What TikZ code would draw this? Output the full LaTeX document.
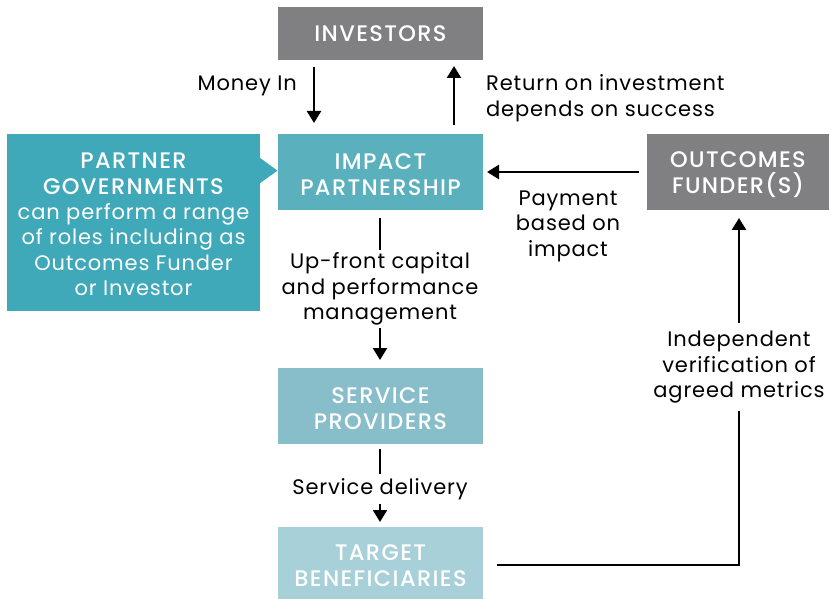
\documentclass[tikz,border=0pt]{standalone}
\usepackage{fontspec}
\setmainfont{Poppins}[LetterSpace=4]
\newfontfamily\headfont{Poppins}[UprightFont=*-Medium, LetterSpace=6]
\usetikzlibrary{arrows.meta}
\definecolor{invgray}{HTML}{808083}
\definecolor{impactteal}{HTML}{5AB0BD}
\definecolor{govteal}{HTML}{3FA9B9}
\definecolor{provteal}{HTML}{88BDCA}
\definecolor{benefteal}{HTML}{A8D0D9}
\tikzset{
  box/.style={minimum width=205pt, minimum height=76pt, inner sep=0pt},
  boxtext/.style={inner sep=0pt, text=white, align=center,
    font=\headfont\fontsize{22.5}{25.5}\selectfont},
  bodytext/.style={inner sep=0pt, text=white, align=center,
    font=\fontsize{21}{25.5}\selectfont},
  lbl/.style={align=center, inner sep=1pt, font=\fontsize{21}{25.5}\selectfont},
  flow/.style={line width=2.4pt, -{Triangle[width=14pt,length=12pt]}},
}
\begin{document}
\begin{tikzpicture}[x=1pt,y=-1pt]
\useasboundingbox (0,0) rectangle (831,599);

% boxes
\node[box, fill=invgray, minimum height=53pt] (inv) at (380.5,33.5) {};
\node[boxtext] (invtxt) at ([yshift=0pt]inv.center) {INVESTORS};
\node[box, fill=impactteal] (ip) at (380.5,172) {};
\node[boxtext] (iptxt) at ([yshift=-2.5pt]ip.center) {IMPACT\\PARTNERSHIP};
\node[box, fill=invgray, minimum width=182pt] (of) at (738,172) {};
\node[boxtext] (oftxt) at ([yshift=-2.5pt]of.center) {OUTCOMES\\FUNDER(S)};
\node[box, fill=provteal] (sp) at (380.5,406) {};
\node[boxtext] (sptxt) at ([yshift=-2.5pt]sp.center) {SERVICE\\PROVIDERS};
\node[box, fill=benefteal, minimum height=72pt] (tb) at (380.5,563) {};
\node[boxtext] (tbtxt) at ([yshift=-2.5pt]tb.center) {TARGET\\BENEFICIARIES};

% partner governments callout with its pointer
\node[box, fill=govteal, minimum width=253pt, minimum height=177pt] (pg) at (133.5,222.5) {};
\fill[govteal] (pg.east |- 0,158) -- (277.5,170.7) -- (pg.east |- 0,183) -- cycle;
\node[boxtext, anchor=north] (pghead) at (133.5,153) {PARTNER\\GOVERNMENTS};
\node[bodytext, anchor=north] (pgbody) at (133.5,203) {can perform a range\\of roles including as\\Outcomes Funder\\or Investor};

% investors <-> impact partnership
\coordinate (mi1) at (314,67);
\coordinate (mi2) at (314,123);
\draw[flow] (mi1) -- (mi2);
\node[lbl, anchor=east] (milbl) at (298,86) {Money In};
\coordinate (ri1) at (454,125);
\coordinate (ri2) at (454,66);
\draw[flow] (ri1) -- (ri2);
\node[lbl, anchor=west, align=left] (rilbl) at (485,98) {Return on investment\\depends on success};

% outcomes funder -> impact partnership
\coordinate (pa1) at (639,172);
\coordinate (pa2) at (487,172);
\draw[flow] (pa1) -- (pa2);
\node[lbl] (palbl) at (568,226) {Payment\\based on\\impact};

% impact partnership -> service providers
\coordinate (up1) at (380,218);
\coordinate (up2) at (380,360);
\draw[flow] (up1) -- node[lbl, fill=white, pos=0.5, inner ysep=3pt] (uplbl)
  {Up-front capital\\and performance\\management} (up2);

% service providers -> target beneficiaries
\coordinate (sd1) at (380,449);
\coordinate (sd2) at (380,522);
\draw[flow] (sd1) -- node[lbl, fill=white, pos=0.55, inner ysep=4pt] (sdlbl) {Service delivery} (sd2);

% target beneficiaries -> outcomes funder
\coordinate (iv1) at (497,565);
\coordinate (iv2) at (739,565);
\coordinate (iv3) at (739,218);
\draw[flow] (iv1) -- (iv2) -- node[lbl, fill=white, pos=0.57, inner ysep=8pt] (ivlbl)
  {Independent\\verification of\\agreed metrics} (iv3);
\end{tikzpicture}
\end{document}
